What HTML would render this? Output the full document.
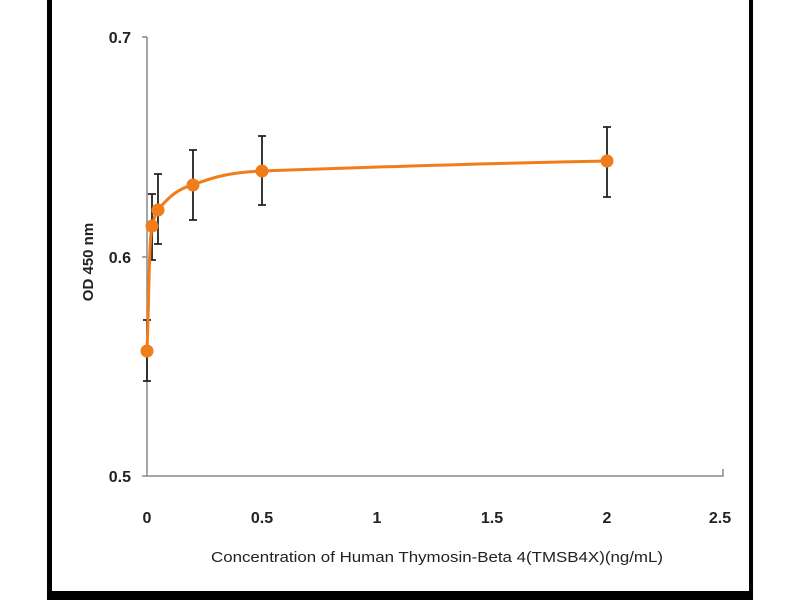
<!DOCTYPE html><html><head><style>body{margin:0;background:#fff}</style></head><body>
<svg width="800" height="600" xmlns="http://www.w3.org/2000/svg" font-family="Liberation Sans, sans-serif">
<rect width="800" height="600" fill="#fff"/>
<rect x="47" y="0" width="5" height="600" fill="#000"/>
<rect x="749" y="0" width="4" height="600" fill="#000"/>
<rect x="47" y="591" width="706" height="9" fill="#000"/>
<g stroke="#888" stroke-width="1.5" fill="none">
<path d="M147 37V476H723V469"/>
<path d="M142 37H147M142 257H147M142 476H147"/>
</g>
<g font-size="16" font-weight="bold" fill="#222" text-anchor="end">
<text x="131" y="43">0.7</text><text x="131" y="263">0.6</text><text x="131" y="482">0.5</text>
</g>
<g font-size="16" font-weight="bold" fill="#222" text-anchor="middle">
<text x="147" y="523">0</text><text x="262" y="523">0.5</text><text x="377" y="523">1</text><text x="492" y="523">1.5</text><text x="607" y="523">2</text><text x="720" y="523">2.5</text>
</g>
<text x="211" y="562" font-size="15" fill="#222" textLength="452" lengthAdjust="spacingAndGlyphs">Concentration of Human Thymosin-Beta 4(TMSB4X)(ng/mL)</text>
<text transform="translate(93 262) rotate(-90)" font-size="15" font-weight="bold" fill="#222" text-anchor="middle">OD 450 nm</text>
<g stroke="#222" stroke-width="1.8">
<path d="M147 320V381M143 320H151M143 381H151"/>
<path d="M152 194V260M148 194H156M148 260H156"/>
<path d="M158 174V244M154 174H162M154 244H162"/>
<path d="M193 150V220M189 150H197M189 220H197"/>
<path d="M262 136V205M258 136H266M258 205H266"/>
<path d="M607 127V197M603 127H611M603 197H611"/>
</g>
<path d="M147 351C149 300 149 240 152 226C155 215 156 212 158 210C170 195 180 188 193 185C215 176 235 172 262 171C400 166 500 163 607 161" stroke="#f07d1a" stroke-width="3" fill="none"/>
<g fill="#f07d1a">
<circle cx="147" cy="351" r="6.5"/><circle cx="152" cy="226" r="6.5"/><circle cx="158" cy="210" r="6.5"/><circle cx="193" cy="185" r="6.5"/><circle cx="262" cy="171" r="6.5"/><circle cx="607" cy="161" r="6.5"/>
</g>
</svg>
</body></html>
